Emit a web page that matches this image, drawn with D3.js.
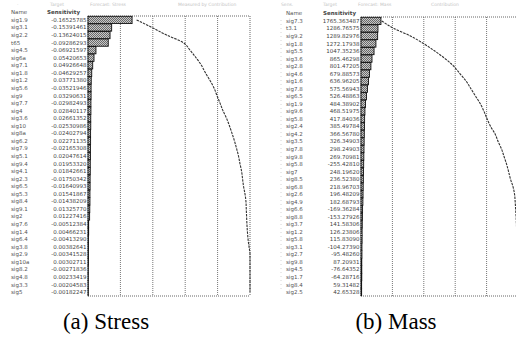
<!DOCTYPE html>
<html>
<head>
<meta charset="utf-8">
<script src="https://cdn.jsdelivr.net/npm/d3@7/dist/d3.min.js"></script>
<style>
  body { margin: 0; background: #fff; }
  svg { display: block; }
</style>
</head>
<body>
<svg id="chart" width="516" height="338"></svg>
<script>
// ---- data ----
const stressNames = ["sig1.9","sig3.1","sig2.2","t65","sig4.5","sig6a","sig7.1","sig1.8","sig1.2","sig5.6","sig9","sig7.7","sig4","sig3.6","sig10","sig8a","sig6.2","sig7.9","sig5.1","sig9.4","sig4.1","sig2.3","sig6.5","sig5.3","sig8.4","sig9.1","sig2","sig7.6","sig1.4","sig6.4","sig3.8","sig2.9","sig10a","sig8.2","sig4.8","sig3.3","sig5"];
const stressLabels = ["-0.16525785","-0.15391461","-0.13624015","-0.09286293","-0.06921597","0.05420653","0.04926648","-0.04629257","0.03771380","-0.03521946","0.03290631","-0.02982493","0.02840117","0.02661352","-0.02530986","-0.02402794","0.02271135","-0.02165308","0.02047614","0.01953320","0.01842661","-0.01750342","-0.01640993","0.01541867","-0.01438209","0.01325770","0.01227416","-0.00512384","0.00466231","-0.00413290","0.00382641","-0.00341528","0.00302711","-0.00271836","0.00233419","-0.00204583","-0.00182247"];
const stressShare = [27.2, 14.6, 13.6, 12.5, 4.9, 3.7, 2.9, 2.3, 2.0, 1.9, 1.9, 1.8, 1.8, 1.7, 1.7, 1.6, 1.6, 1.5, 1.5, 1.4, 1.4, 1.3, 1.3, 1.2, 1.2, 1.1, 1.0, 0.4, 0.4, 0.3, 0.3, 0.3, 0.3, 0.2, 0.2, 0.2, 0.2];
const stressCum = [30, 39.5, 48.5, 58.8, 63, 66.7, 70, 72.5, 75.3, 77.8, 79.6, 81.5, 83.3, 85.5, 87.3, 88.9, 90.4, 91.7, 92.9, 93.8, 94.8, 95.4, 96, 96.9, 97.5, 97.7, 97.9, 98.1, 98.4, 98.8, 99.4, 100, 100, 100, 100, 100, 100];

const massNames = ["sig7.3","t3.1","sig9.2","sig1.8","sig5.5","sig3.6","sig2.8","sig4.6","sig1.6","sig7.8","sig6.5","sig1.9","sig9.6","sig5.8","sig2.4","sig4.2","sig3.5","sig7.8","sig9.8","sig5.8","sig7","sig8.5","sig6.8","sig2.6","sig4.9","sig6.6","sig8.8","sig3.7","sig1.2","sig5.8","sig3.1","sig2.7","sig9.8","sig4.5","sig1.7","sig8.4","sig2.5"];
const massLabels = ["1765.363487","1286.76575","1289.82976","1272.17938","1047.35236","865.46298","801.47205","679.88573","636.96205","575.56943","526.48863","484.38902","468.51975","417.84036","385.49784","366.56780","326.34903","298.24903","269.70981","-255.42810","248.19620","236.52380","218.96703","196.48209","182.68793","-169.36284","-153.27926","141.58306","126.23806","115.83090","-104.27390","-95.48260","87.20931","-76.64352","-64.28716","59.31482","42.65328"];
const massShare = [12.7, 10.8, 10.6, 9.5, 8.3, 7.0, 6.3, 5.4, 4.8, 4.1, 3.5, 2.9, 2.5, 2.3, 2.2, 2.1, 2.0, 1.9, 1.8, 1.7, 1.6, 1.5, 1.4, 1.3, 1.2, 1.0, 0.9, 0.8, 0.7, 0.7, 0.6, 0.6, 0.5, 0.5, 0.5, 0.4, 0.4];
const massCum = [13.2, 21, 31.5, 39.8, 47, 53.5, 59, 63, 67, 70, 73, 76, 78.3, 80.3, 82.5, 85.4, 87.3, 89.5, 91.1, 92.7, 94, 95.2, 96.8, 97.8, 98.2, 98.5, 98.8, 99, 99.2, 99.4, 99.6, 99.8, 100, 100, 100, 100, 100];

const gridTicks = [20, 40, 60, 80];
const captions = ["(a) Stress", "(b) Mass"];

const svg = d3.select("#chart");
svg.append("rect").attr("width", 516).attr("height", 338).attr("fill", "#fff");

// halftone-like gray fill for the bars
const pat = svg.append("defs").append("pattern")
  .attr("id", "halftone")
  .attr("width", 2).attr("height", 2)
  .attr("patternUnits", "userSpaceOnUse");
pat.append("rect").attr("width", 2).attr("height", 2).attr("fill", "#c8c8c8");
pat.append("rect").attr("width", 1).attr("height", 1).attr("fill", "#6a6a6a");
pat.append("rect").attr("x", 1).attr("y", 1).attr("width", 1).attr("height", 1).attr("fill", "#6a6a6a");

const renderPanel = (cfg, names, labels, share, cum) => {
  const g = svg.append("g");
  const n = share.length;

  const xScale = d3.scaleLinear().domain([0, 100]).range([cfg.x0, cfg.x1]);
  const yScale = d3.scaleBand().domain(d3.range(n)).range([cfg.y0, cfg.y1]).padding(0.04);
  const bw = yScale.bandwidth();

  // faint cut-off text at very top
  cfg.topText.forEach(t => {
    g.append("text")
      .attr("x", t[0]).attr("y", 6)
      .attr("font-family", "DejaVu Sans")
      .attr("font-size", 4.5)
      .attr("fill", "#c4c4c4")
      .text(t[1]);
  });

  // header
  g.append("text")
    .attr("x", cfg.nameX).attr("y", cfg.headY)
    .attr("font-family", "DejaVu Sans").attr("font-size", 5.5)
    .attr("fill", "#555")
    .text("Name");
  g.append("text")
    .attr("x", cfg.valX).attr("y", cfg.headY)
    .attr("font-family", "DejaVu Sans").attr("font-size", 5.5)
    .attr("font-weight", "bold")
    .attr("fill", "#444")
    .text("Sensitivity");

  // row labels
  g.selectAll(".nm")
    .data(names)
    .enter()
    .append("text")
    .attr("class", "nm")
    .attr("x", cfg.nameX)
    .attr("y", (d, i) => yScale(i) + bw / 2 + 2)
    .attr("font-family", "DejaVu Sans")
    .attr("font-size", 5.5)
    .attr("fill", "#555")
    .text(d => d);

  g.selectAll(".vl")
    .data(labels)
    .enter()
    .append("text")
    .attr("class", "vl")
    .attr("x", cfg.x0 - 1.5)
    .attr("y", (d, i) => yScale(i) + bw / 2 + 2)
    .attr("text-anchor", "end")
    .attr("font-family", "DejaVu Sans")
    .attr("font-size", 5.5)
    .attr("fill", "#444")
    .text(d => d);

  // grid
  g.selectAll(".grid")
    .data(gridTicks)
    .enter()
    .append("line")
    .attr("x1", d => xScale(d)).attr("x2", d => xScale(d))
    .attr("y1", cfg.y0).attr("y2", cfg.y1)
    .attr("stroke", "#777")
    .attr("stroke-width", 1)
    .attr("stroke-dasharray", "1,1");

  // frame (dotted)
  [[cfg.x0, cfg.y0, cfg.x1, cfg.y0], [cfg.x0, cfg.y1, cfg.x1, cfg.y1],
   [cfg.x0, cfg.y0, cfg.x0, cfg.y1], [cfg.x1, cfg.y0, cfg.x1, cfg.y1]].forEach(s => {
    g.append("line")
      .attr("x1", s[0]).attr("y1", s[1]).attr("x2", s[2]).attr("y2", s[3])
      .attr("stroke", "#666")
      .attr("stroke-width", 1)
      .attr("stroke-dasharray", "1,1");
  });

  // bars
  g.selectAll(".bar")
    .data(share)
    .enter()
    .append("rect")
    .attr("class", "bar")
    .attr("x", xScale(0))
    .attr("y", (d, i) => yScale(i))
    .attr("width", d => xScale(d) - xScale(0))
    .attr("height", bw)
    .attr("fill", "url(#halftone)")
    .attr("stroke", "#111")
    .attr("stroke-width", 0.9);

  // cumulative line
  const line = d3.line()
    .x(d => xScale(d))
    .y((d, i) => yScale(i) + bw / 2)
    .curve(d3.curveMonotoneY);

  g.append("path")
    .datum(cum)
    .attr("fill", "none")
    .attr("stroke", "#333")
    .attr("stroke-width", 1.1)
    .attr("stroke-dasharray", "2.5,1")
    .attr("d", line);

  // caption
  g.append("text")
    .attr("x", cfg.capX).attr("y", 329)
    .attr("text-anchor", "middle")
    .attr("font-family", "Liberation Serif")
    .attr("font-size", 23)
    .attr("fill", "#000")
    .text(cfg.caption);
};

renderPanel({ x0: 88, x1: 250, y0: 16, y1: 296, nameX: 11, valX: 47, headY: 14,
  capX: 106, caption: captions[0],
  topText: [[17, "·"], [50, "Target"], [90, "Forecast: Stress"], [178, "Measured by Contribution"]] },
  stressNames, stressLabels, stressShare, stressCum);

renderPanel({ x0: 361, x1: 518, y0: 17, y1: 296, nameX: 286, valX: 323, headY: 15,
  capX: 396, caption: captions[1],
  topText: [[281, "Sens."], [323, "Target"], [358, "Forecast: Mass"], [431, "Contribution"]] },
  massNames, massLabels, massShare, massCum);

// faint table edge left of panel (b)
svg.append("line")
  .attr("x1", 281).attr("x2", 281).attr("y1", 20).attr("y2", 292)
  .attr("stroke", "#ccc").attr("stroke-width", 0.8).attr("stroke-dasharray", "1,3");
</script>
</body>
</html>
